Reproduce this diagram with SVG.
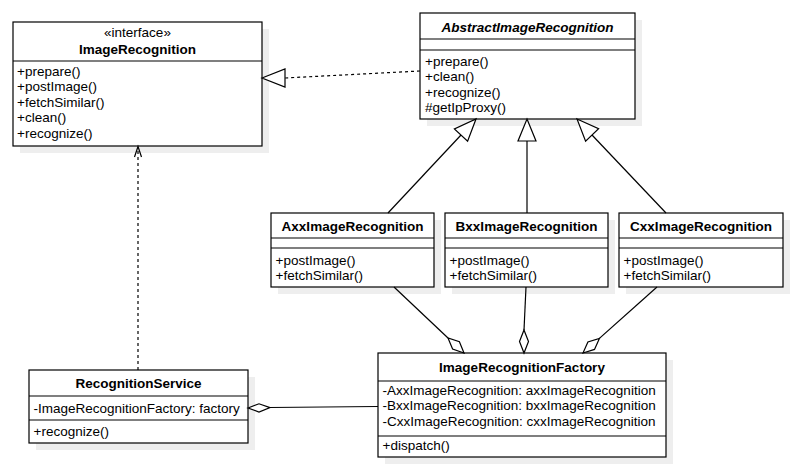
<svg xmlns="http://www.w3.org/2000/svg" width="800" height="472" viewBox="0 0 800 472">
<style>
.box{fill:#fff;stroke:#000;stroke-width:1.2}
.sh{fill:#eeeeee}
.div{stroke:#000;stroke-width:1.2}
text{font-family:"Liberation Sans",Arial,sans-serif;font-size:13.5px;fill:#000}
.t{font-weight:bold;text-anchor:middle}
.ti{font-weight:bold;font-style:italic;text-anchor:middle}
.st{text-anchor:middle}
.ln{stroke:#000;stroke-width:1.2;fill:none}
.dash{stroke:#000;stroke-width:1.2;fill:none;stroke-dasharray:3,3}
.hd{fill:#fff;stroke:#000;stroke-width:1.2}
</style>
<rect width="800" height="472" fill="#fff"/>

<g id="ImageRecognition">
<rect class="sh" x="20" y="29" width="249" height="124"/>
<rect class="box" x="13" y="22" width="249" height="124"/>
<line class="div" x1="13" y1="61" x2="262" y2="61"/>
<text class="st" x="137.5" y="37">«interface»</text>
<text class="t" x="137.5" y="53.5">ImageRecognition</text>
<text x="17" y="76">+prepare()</text>
<text x="17" y="91.4">+postImage()</text>
<text x="17" y="106.8">+fetchSimilar()</text>
<text x="17" y="122.2">+clean()</text>
<text x="17" y="137.6">+recognize()</text>
</g>

<g id="AbstractImageRecognition">
<rect class="sh" x="427" y="20" width="215" height="106"/>
<rect class="box" x="420" y="13" width="215" height="106"/>
<line class="div" x1="420" y1="39" x2="635" y2="39"/>
<line class="div" x1="420" y1="50" x2="635" y2="50"/>
<text class="ti" x="527.5" y="31.5">AbstractImageRecognition</text>
<text x="425" y="66">+prepare()</text>
<text x="425" y="81.3">+clean()</text>
<text x="425" y="96.6">+recognize()</text>
<text x="425" y="111.9">#getIpProxy()</text>
</g>

<g id="AxxImageRecognition">
<rect class="sh" x="278" y="220" width="163" height="74"/>
<rect class="box" x="271" y="213" width="163" height="74"/>
<line class="div" x1="271" y1="238" x2="434" y2="238"/>
<line class="div" x1="271" y1="248" x2="434" y2="248"/>
<text class="t" x="352.5" y="230.5">AxxImageRecognition</text>
<text x="275.5" y="265">+postImage()</text>
<text x="275.5" y="280.4">+fetchSimilar()</text>
</g>

<g id="BxxImageRecognition">
<rect class="sh" x="452" y="220" width="163" height="74"/>
<rect class="box" x="445" y="213" width="163" height="74"/>
<line class="div" x1="445" y1="238" x2="608" y2="238"/>
<line class="div" x1="445" y1="248" x2="608" y2="248"/>
<text class="t" x="526.5" y="230.5">BxxImageRecognition</text>
<text x="449.5" y="265">+postImage()</text>
<text x="449.5" y="280.4">+fetchSimilar()</text>
</g>

<g id="CxxImageRecognition">
<rect class="sh" x="626" y="220" width="164" height="74"/>
<rect class="box" x="619" y="213" width="164" height="74"/>
<line class="div" x1="619" y1="238" x2="783" y2="238"/>
<line class="div" x1="619" y1="248" x2="783" y2="248"/>
<text class="t" x="701" y="230.5">CxxImageRecognition</text>
<text x="623.5" y="265">+postImage()</text>
<text x="623.5" y="280.4">+fetchSimilar()</text>
</g>

<g id="RecognitionService">
<rect class="sh" x="36" y="377" width="219" height="73"/>
<rect class="box" x="29" y="370" width="219" height="73"/>
<line class="div" x1="29" y1="396" x2="248" y2="396"/>
<line class="div" x1="29" y1="420" x2="248" y2="420"/>
<text class="t" x="138.5" y="388">RecognitionService</text>
<text x="33.5" y="412.7">-ImageRecognitionFactory: factory</text>
<text x="33.5" y="435.5">+recognize()</text>
</g>

<g id="ImageRecognitionFactory">
<rect class="sh" x="385" y="360" width="288" height="104"/>
<rect class="box" x="378" y="353" width="288" height="104"/>
<line class="div" x1="378" y1="381" x2="666" y2="381"/>
<line class="div" x1="378" y1="436" x2="666" y2="436"/>
<text class="t" x="522" y="371.7">ImageRecognitionFactory</text>
<text x="382.5" y="395">-AxxImageRecognition: axxImageRecognition</text>
<text x="382.5" y="410.3">-BxxImageRecognition: bxxImageRecognition</text>
<text x="382.5" y="425.6">-CxxImageRecognition: cxxImageRecognition</text>
<text x="382.5" y="450">+dispatch()</text>
</g>

<g id="connectors">
<!-- realization -->
<line class="dash" x1="420" y1="71" x2="285" y2="78"/>
<polygon class="hd" points="262,78 285,69 285,87"/>
<!-- dependency -->
<line class="dash" x1="138" y1="370" x2="138" y2="148"/>
<polyline class="ln" points="134.5,157 138,146.5 141.5,157"/>
<!-- generalizations -->
<line class="ln" x1="461" y1="135" x2="388" y2="213"/>
<polygon class="hd" points="476,119 467.6,141.2 454.4,129"/>
<line class="ln" x1="527" y1="141" x2="527" y2="213"/>
<polygon class="hd" points="527,119 536,141 518,141"/>
<line class="ln" x1="592" y1="135" x2="666" y2="213"/>
<polygon class="hd" points="577,119 598.6,128.8 585.6,141.2"/>
<!-- aggregations -->
<line class="ln" x1="394" y1="287" x2="448" y2="338"/>
<polygon class="hd" points="464,353 459.4,341.8 448,338 452.6,349"/>
<line class="ln" x1="526" y1="287" x2="524" y2="330"/>
<polygon class="hd" points="524,330 528.5,341.5 524,353 519.5,341.5"/>
<line class="ln" x1="657" y1="287" x2="599.4" y2="338.4"/>
<polygon class="hd" points="583,353 594.5,349.4 599.4,338.4 587.9,342"/>
<line class="ln" x1="270" y1="407.5" x2="378" y2="406.5"/>
<polygon class="hd" points="248,408 259,403.8 270,407.6 259,412"/>
</g>
</svg>
